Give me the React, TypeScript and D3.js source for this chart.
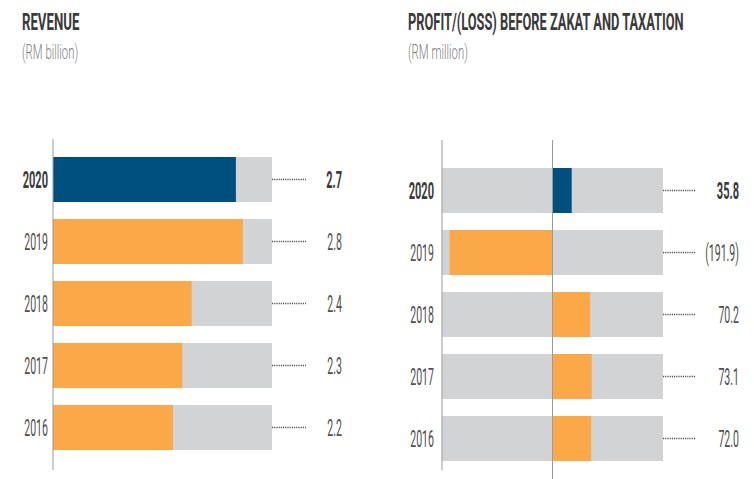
import React, { useEffect, useRef } from 'react';
import * as d3 from 'd3';

// Revenue (RM billion)
const revenueYears = ['2020', '2019', '2018', '2017', '2016'];
const revenueValues = [2.74, 2.8, 2.36, 2.28, 2.2];
const revenueLabels = ['2.7', '2.8', '2.4', '2.3', '2.2'];

// Profit/(loss) before zakat and taxation (RM million)
const profitYears = ['2020', '2019', '2018', '2017', '2016'];
const profitValues = [35.8, -191.9, 70.2, 73.1, 72.0];
const profitLabels = ['35.8', '(191.9)', '70.2', '73.1', '72.0'];

const W = 754;
const H = 479;

const BLUE = '#00507f';
const ORANGE = '#fba848';
const GREY = '#d1d3d4';
const AXIS = '#9a9a9a';
const DARK = '#3a3a3a';
const LIGHT = '#505050';
const FONT = 'Roboto, "DejaVu Sans", sans-serif';

type Sel = d3.Selection<SVGGElement, unknown, null, undefined>;

// condensed text: Roboto squeezed horizontally
function label(
  g: Sel,
  x: number,
  y: number,
  text: string,
  opts: { size: number; weight: number; color: string; anchor?: string; sx?: number }
) {
  g.append('text')
    .attr('transform', `translate(${x},${y}) scale(${opts.sx ?? 0.5},1)`)
    .attr('text-anchor', opts.anchor ?? 'start')
    .attr('font-family', FONT)
    .attr('font-size', opts.size)
    .attr('font-weight', opts.weight)
    .attr('fill', opts.color)
    .text(text);
}

const yearStyle = (bold: boolean) => ({
  size: 23,
  weight: bold ? 700 : 400,
  color: bold ? DARK : LIGHT,
  anchor: 'end',
  sx: bold ? 0.48 : 0.46,
});

const App: React.FC = () => {
  const svgRef = useRef<SVGSVGElement | null>(null);

  useEffect(() => {
    d3.select(svgRef.current).selectAll('*').remove();
    const svg = d3.select(svgRef.current);
    const root = svg.append('g') as unknown as Sel;

    // ---------- titles ----------
    label(root, 22, 30, 'REVENUE', { size: 24, weight: 700, color: DARK, sx: 0.55 });
    label(root, 22, 59, '(RM billion)', { size: 21, weight: 300, color: '#808080', sx: 0.54 });
    label(root, 408, 30, 'PROFIT/(LOSS) BEFORE ZAKAT AND TAXATION', { size: 24, weight: 700, color: DARK, sx: 0.535 });
    label(root, 408, 59, '(RM million)', { size: 21, weight: 300, color: '#808080', sx: 0.54 });

    // ---------- revenue ----------
    const yL = d3.scaleBand<string>().domain(revenueYears).range([148.5, 458.5]).paddingInner(0.274).paddingOuter(0.137);
    const xL = d3.scaleLinear().domain([1.17, 3.05]).range([53, 272]);
    const left = root.append('g') as unknown as Sel;

    left.selectAll('rect.bg')
      .data(revenueYears)
      .enter()
      .append('rect')
      .attr('x', xL(1.17))
      .attr('y', d => yL(d)!)
      .attr('width', xL(3.05) - xL(1.17))
      .attr('height', yL.bandwidth())
      .attr('fill', GREY);

    left.selectAll('rect.val')
      .data(revenueValues)
      .enter()
      .append('rect')
      .attr('x', xL(1.17))
      .attr('y', (_, i) => yL(revenueYears[i])!)
      .attr('width', d => xL(d) - xL(1.17))
      .attr('height', yL.bandwidth())
      .attr('fill', (_, i) => (i === 0 ? BLUE : ORANGE));

    left.append('line')
      .attr('x1', 53).attr('x2', 53)
      .attr('y1', 139).attr('y2', 470)
      .attr('stroke', AXIS).attr('stroke-width', 1);

    revenueYears.forEach((yr, i) => {
      const cy = yL(yr)! + yL.bandwidth() / 2;
      const bold = i === 0;
      label(left, 48, cy + 8, yr, yearStyle(bold));
      left.append('line')
        .attr('x1', xL(3.05)).attr('x2', 306)
        .attr('y1', cy).attr('y2', cy)
        .attr('stroke', '#555').attr('stroke-width', 1.5)
        .attr('stroke-dasharray', '1.2,1');
      label(left, 342, cy + 8, revenueLabels[i], yearStyle(bold));
    });

    // ---------- profit ----------
    const yR = d3.scaleBand<string>().domain(profitYears).range([159.5, 469.5]).paddingInner(0.274).paddingOuter(0.137);
    const xR = d3.scaleLinear().domain([-206, 206]).range([442, 663]);
    const right = root.append('g') as unknown as Sel;

    right.selectAll('rect.bg')
      .data(profitYears)
      .enter()
      .append('rect')
      .attr('x', xR(-206))
      .attr('y', d => yR(d)!)
      .attr('width', xR(206) - xR(-206))
      .attr('height', yR.bandwidth())
      .attr('fill', GREY);

    right.selectAll('rect.val')
      .data(profitValues)
      .enter()
      .append('rect')
      .attr('x', d => xR(Math.min(0, d)))
      .attr('y', (_, i) => yR(profitYears[i])!)
      .attr('width', d => Math.abs(xR(d) - xR(0)))
      .attr('height', yR.bandwidth())
      .attr('fill', (_, i) => (i === 0 ? BLUE : ORANGE));

    right.append('line')
      .attr('x1', 442).attr('x2', 442)
      .attr('y1', 140).attr('y2', 470)
      .attr('stroke', AXIS).attr('stroke-width', 1);
    right.append('line')
      .attr('x1', xR(0)).attr('x2', xR(0))
      .attr('y1', 140).attr('y2', H)
      .attr('stroke', AXIS).attr('stroke-width', 1);

    profitYears.forEach((yr, i) => {
      const cy = yR(yr)! + yR.bandwidth() / 2;
      const bold = i === 0;
      label(right, 434, cy + 8, yr, yearStyle(bold));
      right.append('line')
        .attr('x1', xR(206)).attr('x2', 695)
        .attr('y1', cy).attr('y2', cy)
        .attr('stroke', '#555').attr('stroke-width', 1.5)
        .attr('stroke-dasharray', '1.2,1');
      label(right, 739, cy + 8, profitLabels[i], yearStyle(bold));
    });
  }, []);

  return (
    <svg
      ref={svgRef}
      width={W}
      height={H}
      style={{ position: 'absolute', left: 0, top: 0, background: '#fff' }}
    ></svg>
  );
};

export default App;
